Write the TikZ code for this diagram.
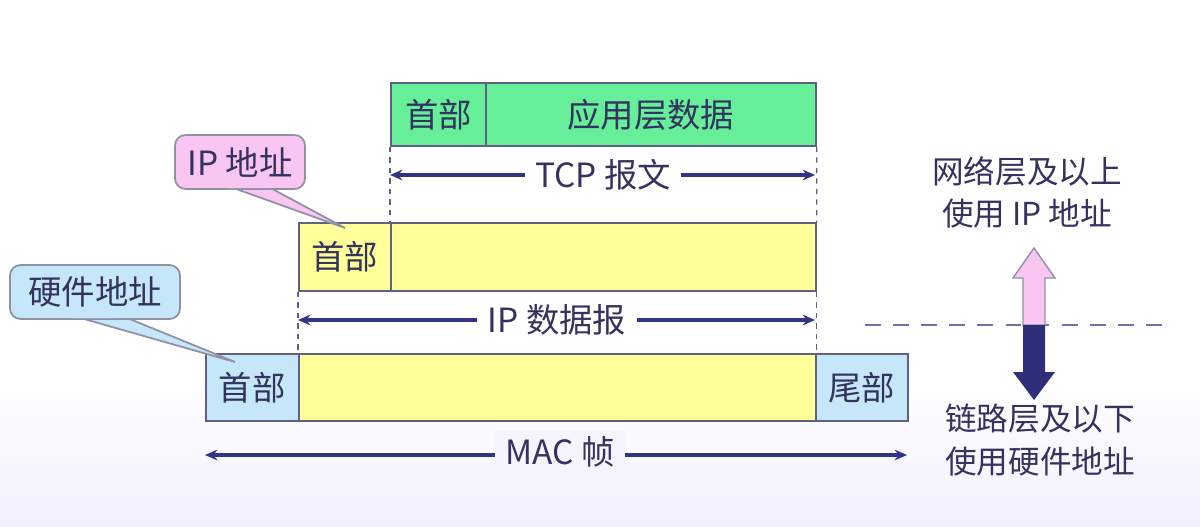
\documentclass[tikz,border=0pt]{standalone}
\usepackage{fontspec}
\setmainfont{Noto Sans CJK SC}
\usetikzlibrary{arrows.meta}
\definecolor{navy}{HTML}{333388}
\definecolor{txt}{HTML}{33335F}
\definecolor{grn}{HTML}{66EE99}
\definecolor{ylw}{HTML}{FFFF99}
\definecolor{lblue}{HTML}{C6E6FA}
\definecolor{pink}{HTML}{F8C6F0}
\definecolor{frame}{HTML}{606080}
\tikzset{
  cell/.style={draw=frame, line width=1pt, inner sep=0pt, anchor=north west, font=\fontsize{19}{22}\selectfont, text=txt},
  guide/.style={draw=frame, dashed, line width=0.6pt},
  span/.style={draw=navy, line width=2pt, {Stealth[length=7pt,width=6pt]}-{Stealth[length=7pt,width=6pt]}},
  lab/.style={fill=white, inner xsep=6pt, font=\fontsize{19}{22}\selectfont, text=txt},
  callout/.style={draw=frame!70, line width=1pt, rounded corners=6pt, font=\fontsize{19}{22}\selectfont, text=txt},
  side/.style={font=\fontsize{18}{24}\selectfont, text=txt, align=center}
}
\begin{document}
\begin{tikzpicture}[x=0.02cm,y=-0.02cm]
\useasboundingbox (0,0) rectangle (1200,527);
\shade[top color=white, bottom color=blue!6] (0,380) rectangle (1200,527);
% TCP
\node[cell, fill=grn, minimum width=95*0.02cm, minimum height=63*0.02cm] (th) at (390,82) {首部};
\node[cell, fill=grn, minimum width=330*0.02cm, minimum height=63*0.02cm] (td) at (485,82) {应用层数据};
% IP
\node[cell, fill=ylw, minimum width=92*0.02cm, minimum height=68*0.02cm] (ih) at (298,222) {首部};
\node[cell, fill=ylw, minimum width=425*0.02cm, minimum height=68*0.02cm] (id) at (390,222) {};
% MAC
\node[cell, fill=lblue, minimum width=93*0.02cm, minimum height=67*0.02cm] (mh) at (205,353) {首部};
\node[cell, fill=ylw, minimum width=517*0.02cm, minimum height=67*0.02cm] (md) at (298,353) {};
\node[cell, fill=lblue, minimum width=92*0.02cm, minimum height=67*0.02cm] (mt) at (815,353) {尾部};
% guides
\draw[guide] (th.south west) -- (id.north west);
\draw[guide] (td.south east) -- (id.north east);
\draw[guide] (ih.south west) -- (md.north west);
\draw[guide] (id.south east) -- (md.north east);
% spans
\coordinate (t1) at (390,175); \coordinate (t2) at (815,175);
\draw[span] (t1) -- (t2);
\node[lab] (tl) at (603,175) {TCP 报文};
\coordinate (i1) at (298,320); \coordinate (i2) at (815,320);
\draw[span] (i1) -- (i2);
\node[lab] (il) at (557,320) {IP 数据报};
\coordinate (m1) at (205,455); \coordinate (m2) at (907,455);
\draw[span] (m1) -- (m2);
\node[lab, fill=blue!4] (ml) at (560,452) {MAC 帧};
% callouts
\fill[pink, draw=frame!70, line width=1pt] (225,185) -- (345,228) -- (265,185) -- cycle;
\node[callout, fill=pink, minimum width=130*0.02cm, minimum height=54*0.02cm] (ca) at (240,162) {IP 地址};
\fill[pink] (226,182) -- (264,182) -- (262,188) -- (228,188) -- cycle;
\fill[lblue, draw=frame!70, line width=1pt] (70,315) -- (235,362) -- (120,315) -- cycle;
\node[callout, fill=lblue, minimum width=170*0.02cm, minimum height=54*0.02cm] (cb) at (95,292) {硬件地址};
\fill[lblue] (71,312) -- (119,312) -- (117,318) -- (73,318) -- cycle;
% right side
\coordinate (d1) at (865,325); \coordinate (d2) at (1170,325);
\draw[draw=navy!70, line width=1.6pt, dash pattern=on 9pt off 7pt] (d1) -- (d2);
\draw[draw=frame!70, fill=pink, line width=0.8pt] (1023,325) -- (1023,278) -- (1013,278) -- (1034,248) -- (1055,278) -- (1045,278) -- (1045,325) -- cycle;
\fill[navy!90!black] (1023,325) -- (1023,372) -- (1013,372) -- (1034,400) -- (1055,372) -- (1045,372) -- (1045,325) -- cycle;
\node[side] (up) at (1027,192) {网络层及以上\\使用 IP 地址};
\node[side] (dn) at (1040,440) {链路层及以下\\使用硬件地址};
\end{tikzpicture}
\end{document}
